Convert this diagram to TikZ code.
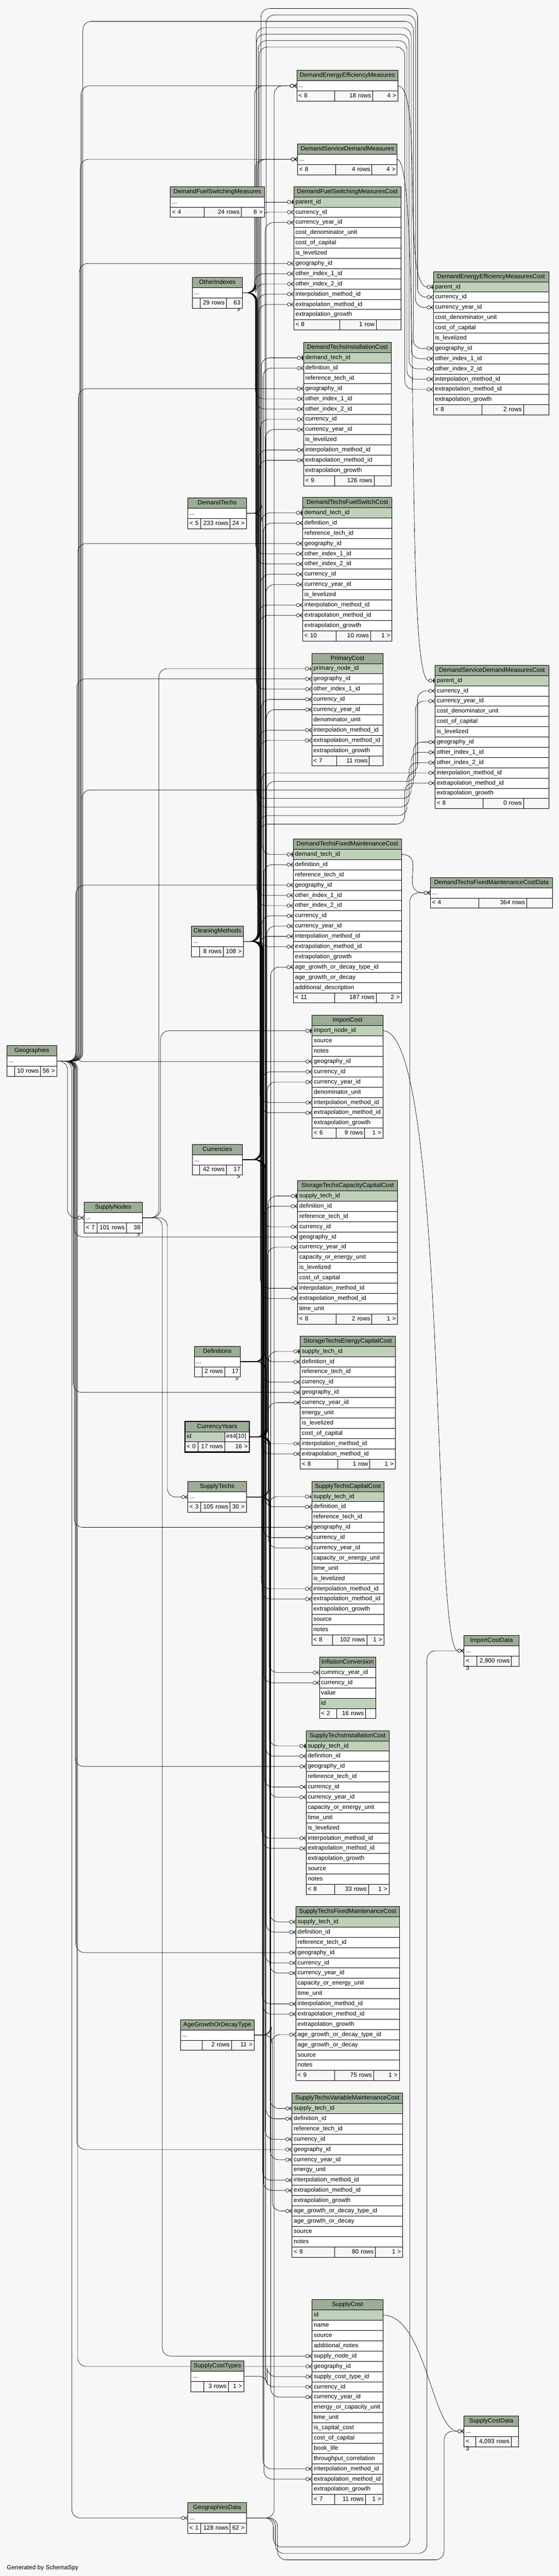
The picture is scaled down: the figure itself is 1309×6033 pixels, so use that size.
\documentclass[tikz,border=0pt]{standalone}
\usepackage{fontspec}
\setmainfont{Liberation Sans}
\usetikzlibrary{calc}
\pgfdeclarelayer{bg}
\pgfsetlayers{bg,main}
\definecolor{bgc}{HTML}{F7F7F7}
\definecolor{hdrc}{HTML}{9CAC97}
\definecolor{pkc}{HTML}{BFD1B9}
\definecolor{footc}{HTML}{F7F7F7}
\newcommand\tabfont{\fontsize{14.3}{17}\selectfont}
\tikzset{
  tcell/.style={draw=black, line width=1pt, anchor=north west, minimum height=24pt,
    inner xsep=4pt, inner ysep=0pt, outer sep=0pt, text height=10.5pt, text depth=3pt, font=\tabfont},
  hdr/.style={fill=hdrc},
  fkline/.style={draw=black, line width=0.8pt}
}
% table with columns
\newcommand\tbl[7]{%
  \pgfmathsetmacro\tw{#3-#2-8}%
  \node[tcell,hdr,text width=\tw pt,align=center] (#1-h) at (#2,#4) {#5};
  \foreach \cn [count=\k] in {#7} {%
    \pgfmathsetmacro\ry{#4+24*\k}%
    \ifnum\k=#6\relax\def\rf{pkc}\else\def\rf{white}\fi
    \node[tcell,fill=\rf,text width=\tw pt,align=left] (#1-\k) at (#2,\ry) {\cn};
    \xdef\nrows{\k}%
  }%
  \xdef\tblx{#2}\xdef\tblxr{#3}\xdef\tbly{#4}%
}
% collapsed table
\newcommand\ctbl[5]{%
  \pgfmathsetmacro\tw{#3-#2-8}%
  \pgfmathsetmacro\ry{#4+24}%
  \node[tcell,hdr,text width=\tw pt,align=center] (#1-h) at (#2,#4) {#5};
  \node[tcell,fill=white,text width=\tw pt,align=left] (#1-1) at (#2,\ry) {...};
  \xdef\nrows{1}\xdef\tblx{#2}\xdef\tblxr{#3}\xdef\tbly{#4}%
}
% footer: id, split1, split2, text1, text2, text3
\newcommand\tfoot[6]{%
  \pgfmathsetmacro\fy{\tbly+24*(\nrows+1)}%
  \pgfmathsetmacro\wa{#2-\tblx-8}\pgfmathsetmacro\wb{#3-#2-8}\pgfmathsetmacro\wc{\tblxr-#3-8}%
  \node[tcell,fill=footc,text width=\wa pt,align=left] (#1-fa) at (\tblx,\fy) {#4};
  \node[tcell,fill=footc,text width=\wb pt,align=right] (#1-fb) at (#2,\fy) {#5};
  \node[tcell,fill=footc,text width=\wc pt,align=right] (#1-fc) at (#3,\fy) {#6};
}
% markers
\newcommand\crow[1]{%
  \draw[fkline] ($(#1.west)+(-7,0)$) -- ($(#1.west)+(0,-5)$)
                ($(#1.west)+(-7,0)$) -- (#1.west)
                ($(#1.west)+(-7,0)$) -- ($(#1.west)+(0,5)$);
  \draw[fkline,fill=bgc] ($(#1.west)+(-11,0)$) circle[radius=4pt];}
\newcommand\zo[1]{%
  \draw[fkline] ($(#1.west)+(-7,0)$) -- (#1.west);
  \draw[line width=2.2pt] ($(#1.west)+(-3,-5)$) -- ($(#1.west)+(-3,5)$);
  \draw[fkline,fill=bgc] ($(#1.west)+(-11,0)$) circle[radius=4pt];}
% connectors: parent, child, bundle x
\newcommand\fkm[3]{\draw[fkline,rounded corners=20pt] (#1.east) -- (#1.east -| #3,0) -- (#2.west -| #3,0) -- ($(#2.west)+(-15,0)$); \crow{#2}}
\newcommand\fko[3]{\draw[fkline,rounded corners=20pt] (#1.east) -- (#1.east -| #3,0) -- (#2.west -| #3,0) -- ($(#2.west)+(-15,0)$); \zo{#2}}
% curved direct connectors: parent, child, c1, c2
\newcommand\fkc[4]{\draw[fkline] (#1.east) .. controls +(#3,0) and +(-#4,0) .. ($(#2.west)+(-15,0)$); \crow{#2}}
\newcommand\fkoc[4]{\draw[fkline] (#1.east) .. controls +(#3,0) and +(-#4,0) .. ($(#2.west)+(-15,0)$); \zo{#2}}
% routed around: parent, child, x1, y, x2
\newcommand\rr[5]{\draw[fkline,rounded corners=20pt] (#1.east) -- (#1.east -| #3,0) -- (#3,#4) -- (#5,#4) -- (#2.west -| #5,0) -- ($(#2.west)+(-15,0)$); \crow{#2}}
\begin{document}
\catcode`\_=12
\begin{tikzpicture}[x=1pt,y=-1pt]
\useasboundingbox (0,0) rectangle (1309,6033);
% ---------------- middle column
\ctbl{deem}{695}{932}{165}{DemandEnergyEfficiencyMeasures}
\tfoot{deem}{783}{873}{< 8}{18 rows}{4 >}
\ctbl{dsdm}{697}{930}{337}{DemandServiceDemandMeasures}
\tfoot{dsdm}{786}{871}{< 8}{4 rows}{4 >}
\tbl{dfsmc}{688}{939}{437}{DemandFuelSwitchingMeasuresCost}{1}{parent_id,currency_id,currency_year_id,cost_denominator_unit,cost_of_capital,is_levelized,geography_id,other_index_1_id,other_index_2_id,interpolation_method_id,extrapolation_method_id,extrapolation_growth}
\tfoot{dfsmc}{796}{881}{< 8}{1 row}{}
\tbl{dtic}{711}{916}{802}{DemandTechsInstallationCost}{1}{demand_tech_id,definition_id,reference_tech_id,geography_id,other_index_1_id,other_index_2_id,currency_id,currency_year_id,is_levelized,interpolation_method_id,extrapolation_method_id,extrapolation_growth}
\tfoot{dtic}{784}{876}{< 9}{126 rows}{}
\tbl{dtfsc}{709}{918}{1165}{DemandTechsFuelSwitchCost}{1}{demand_tech_id,definition_id,reference_tech_id,geography_id,other_index_1_id,other_index_2_id,currency_id,currency_year_id,is_levelized,interpolation_method_id,extrapolation_method_id,extrapolation_growth}
\tfoot{dtfsc}{787}{868}{< 10}{10 rows}{1 >}
\tbl{pc}{730}{897}{1530}{PrimaryCost}{1}{primary_node_id,geography_id,other_index_1_id,currency_id,currency_year_id,denominator_unit,interpolation_method_id,extrapolation_method_id,extrapolation_growth}
\tfoot{pc}{789}{865}{< 7}{11 rows}{}
\tbl{dtfmc}{687}{940}{1965}{DemandTechsFixedMaintenanceCost}{1}{demand_tech_id,definition_id,reference_tech_id,geography_id,other_index_1_id,other_index_2_id,currency_id,currency_year_id,interpolation_method_id,extrapolation_method_id,extrapolation_growth,age_growth_or_decay_type_id,age_growth_or_decay,additional_description}
\tfoot{dtfmc}{783}{881}{< 11}{187 rows}{2 >}
\tbl{ic}{731}{897}{2378}{ImportCost}{1}{import_node_id,source,notes,geography_id,currency_id,currency_year_id,denominator_unit,interpolation_method_id,extrapolation_method_id,extrapolation_growth}
\tfoot{ic}{787}{854}{< 6}{9 rows}{1 >}
\tbl{stccc}{697}{931}{2765}{StorageTechsCapacityCapitalCost}{1}{supply_tech_id,definition_id,reference_tech_id,currency_id,geography_id,currency_year_id,capacity_or_energy_unit,is_levelized,cost_of_capital,interpolation_method_id,extrapolation_method_id,time_unit}
\tfoot{stccc}{787}{871}{< 8}{2 rows}{1 >}
\tbl{stecc}{703}{926}{3129}{StorageTechsEnergyCapitalCost}{1}{supply_tech_id,definition_id,reference_tech_id,currency_id,geography_id,currency_year_id,energy_unit,is_levelized,cost_of_capital,interpolation_method_id,extrapolation_method_id}
\tfoot{stecc}{791}{866}{< 8}{1 row}{1 >}
\tbl{stcc}{730}{899}{3469}{SupplyTechsCapitalCost}{1}{supply_tech_id,definition_id,reference_tech_id,geography_id,currency_id,currency_year_id,capacity_or_energy_unit,time_unit,is_levelized,interpolation_method_id,extrapolation_method_id,extrapolation_growth,source,notes}
\tfoot{stcc}{779}{859}{< 8}{102 rows}{1 >}
\tbl{infl}{748}{880}{3881}{InflationConversion}{4}{currency_year_id,currency_id,value,id}
\tfoot{infl}{789}{856}{< 2}{16 rows}{}
\tbl{stic}{717}{911}{4053}{SupplyTechsInstallationCost}{1}{supply_tech_id,definition_id,geography_id,reference_tech_id,currency_id,currency_year_id,capacity_or_energy_unit,time_unit,is_levelized,interpolation_method_id,extrapolation_method_id,extrapolation_growth,source,notes}
\tfoot{stic}{783}{863}{< 8}{33 rows}{1 >}
\tbl{stfmc}{693}{935}{4465}{SupplyTechsFixedMaintenanceCost}{1}{supply_tech_id,definition_id,reference_tech_id,geography_id,currency_id,currency_year_id,capacity_or_energy_unit,time_unit,interpolation_method_id,extrapolation_method_id,extrapolation_growth,age_growth_or_decay_type_id,age_growth_or_decay,source,notes}
\tfoot{stfmc}{783}{875}{< 9}{75 rows}{1 >}
\tbl{stvmc}{684}{943}{4902}{SupplyTechsVariableMaintenanceCost}{1}{supply_tech_id,definition_id,reference_tech_id,currency_id,geography_id,currency_year_id,energy_unit,interpolation_method_id,extrapolation_method_id,extrapolation_growth,age_growth_or_decay_type_id,age_growth_or_decay,source,notes}
\tfoot{stvmc}{783}{879}{< 9}{80 rows}{1 >}
\tbl{sc}{731}{897}{5386}{SupplyCost}{1}{id,name,source,additional_notes,supply_node_id,geography_id,supply_cost_type_id,currency_id,currency_year_id,energy_or_capacity_unit,time_unit,is_capital_cost,cost_of_capital,book_life,throughput_correlation,interpolation_method_id,extrapolation_method_id,extrapolation_growth}
\tfoot{sc}{783}{856}{< 7}{11 rows}{1 >}
% ---------------- right column
\tbl{deemc}{1015}{1285}{636}{DemandEnergyEfficiencyMeasuresCost}{1}{parent_id,currency_id,currency_year_id,cost_denominator_unit,cost_of_capital,is_levelized,geography_id,other_index_1_id,other_index_2_id,interpolation_method_id,extrapolation_method_id,extrapolation_growth}
\tfoot{deemc}{1129}{1226}{< 8}{2 rows}{}
\tbl{dsdmc}{1019}{1285}{1558}{DemandServiceDemandMeasuresCost}{1}{parent_id,currency_id,currency_year_id,cost_denominator_unit,cost_of_capital,is_levelized,geography_id,other_index_1_id,other_index_2_id,interpolation_method_id,extrapolation_method_id,extrapolation_growth}
\tfoot{dsdmc}{1131}{1226}{< 8}{0 rows}{}
\ctbl{dtfmcd}{1008}{1294}{2055}{DemandTechsFixedMaintenanceCostData}
\tfoot{dtfmcd}{1121}{1234}{< 4}{364 rows}{}
\ctbl{icd}{1087}{1215}{3830}{ImportCostData}
\tfoot{icd}{1116}{1198}{< 3}{2,900 rows}{}
\ctbl{scd}{1087}{1214}{5658}{SupplyCostData}
\tfoot{scd}{1114}{1197}{< 3}{4,093 rows}{}
% ---------------- left column
\ctbl{dfsm}{399}{619}{437}{DemandFuelSwitchingMeasures}
\tfoot{dfsm}{478}{565}{< 4}{24 rows}{8 >}
\ctbl{oi}{451}{567}{650}{OtherIndexes}
\tfoot{oi}{469}{530}{}{29 rows}{63 >}
\ctbl{dt}{440}{577}{1166}{DemandTechs}
\tfoot{dt}{470}{539}{< 5}{233 rows}{24 >}
\ctbl{cm}{448}{570}{2169}{CleaningMethods}
\tfoot{cm}{468}{523}{}{8 rows}{108 >}
\ctbl{geo}{16}{133}{2449}{Geographies}
\tfoot{geo}{34}{95}{}{10 rows}{56 >}
\ctbl{cur}{451}{567}{2680}{Currencies}
\tfoot{cur}{468}{530}{}{42 rows}{17 >}
\ctbl{sn}{197}{333}{2816}{SupplyNodes}
\tfoot{sn}{227}{296}{< 7}{101 rows}{38 >}
\ctbl{def}{455}{563}{3153}{Definitions}
\tfoot{def}{473}{526}{}{2 rows}{17 >}
% CurrencyYears (focus table)
\node[tcell,hdr,text width=143pt,align=center] (cy-h) at (433,3329) {CurrencyYears};
\node[tcell,fill=pkc,text width=85pt,align=left] (cy-1a) at (433,3353) {id};
\node[tcell,fill=white,text width=50pt,align=left] (cy-1) at (526,3353) {int4[10]};
\xdef\nrows{1}\xdef\tblx{433}\xdef\tblxr{584}\xdef\tbly{3329}
\tfoot{cy}{464}{526}{< 0}{17 rows}{16 >}
\draw[line width=3pt] (cy-h.north west) rectangle (cy-fc.south east);
\ctbl{st}{440}{577}{3470}{SupplyTechs}
\tfoot{st}{470}{539}{< 3}{105 rows}{30 >}
\ctbl{ag}{423}{595}{4730}{AgeGrowthOrDecayType}
\tfoot{ag}{473}{542}{}{2 rows}{11 >}
\ctbl{sct}{447}{571}{5529}{SupplyCostTypes}
\tfoot{sct}{477}{535}{}{3 rows}{1 >}
\ctbl{gd}{440}{577}{5861}{GeographiesData}
\tfoot{gd}{470}{539}{< 1}{128 rows}{62 >}
\node[anchor=base west,font=\tabfont,inner sep=0pt] (gen) at (16,6018) {Generated by SchemaSpy};
% ---------------- connectors
\begin{pgfonlayer}{bg}
\fill[bgc] (0,0) rectangle (1309,6033);
% DemandEnergyEfficiencyMeasures / DemandServiceDemandMeasures
\fkm{geo-1}{deem-1}{190}
\fkm{oi-1}{deem-1}{596}
\fkm{gd-1}{deem-1}{642}
\fkm{geo-1}{dsdm-1}{188}
\fkm{oi-1}{dsdm-1}{598}
\fkm{cm-1}{dsdm-1}{603}
% DemandFuelSwitchingMeasuresCost
\draw[fkline] (dfsm-1.east) -- ($(dfsmc-1.west)+(-15,0)$); \zo{dfsmc-1}
\fkm{cur-1}{dfsmc-2}{609}
\fkm{cy-1}{dfsmc-3}{621}
\fkm{geo-1}{dfsmc-7}{186}
\fkm{oi-1}{dfsmc-8}{597}
\fkm{oi-1}{dfsmc-9}{599}
\fkm{cm-1}{dfsmc-10}{604}
\fkm{cm-1}{dfsmc-11}{606}
% DemandEnergyEfficiencyMeasuresCost
\fkoc{deem-1}{deemc-1}{60}{60}
\rr{cur-1}{deemc-2}{611}{20}{978}
\rr{cy-1}{deemc-3}{623}{35}{973}
\rr{geo-1}{deemc-7}{194}{50}{968}
\rr{oi-1}{deemc-8}{600}{65}{963}
\rr{oi-1}{deemc-9}{601}{80}{958}
\rr{cm-1}{deemc-10}{605}{95}{953}
\rr{cm-1}{deemc-11}{607}{110}{948}
% DemandTechsInstallationCost
\fko{dt-1}{dtic-1}{612}
\fkm{def-1}{dtic-2}{616}
\fkm{geo-1}{dtic-4}{184}
\fkm{oi-1}{dtic-5}{598}
\fkm{oi-1}{dtic-6}{600}
\fkm{cur-1}{dtic-7}{610}
\fkm{cy-1}{dtic-8}{622}
\fkm{cm-1}{dtic-10}{605}
\fkm{cm-1}{dtic-11}{607}
% DemandTechsFuelSwitchCost
\fko{dt-1}{dtfsc-1}{613}
\fkm{def-1}{dtfsc-2}{617}
\fkm{geo-1}{dtfsc-4}{182}
\fkm{oi-1}{dtfsc-5}{599}
\fkm{oi-1}{dtfsc-6}{601}
\fkm{cur-1}{dtfsc-7}{611}
\fkm{cy-1}{dtfsc-8}{623}
\fkm{cm-1}{dtfsc-10}{606}
\fkm{cm-1}{dtfsc-11}{608}
% PrimaryCost
\fko{sn-1}{pc-1}{372}
\fkm{geo-1}{pc-2}{180}
\fkm{oi-1}{pc-3}{600}
\fkm{cur-1}{pc-4}{612}
\fkm{cy-1}{pc-5}{624}
\fkm{cm-1}{pc-7}{607}
\fkm{cm-1}{pc-8}{609}
% DemandServiceDemandMeasuresCost
\fkoc{dsdm-1}{dsdmc-1}{60}{60}
\rr{cur-1}{dsdmc-2}{612}{1810}{978}
\rr{cy-1}{dsdmc-3}{624}{1830}{973}
\rr{geo-1}{dsdmc-7}{192}{1850}{968}
\rr{oi-1}{dsdmc-8}{601}{1870}{963}
\rr{oi-1}{dsdmc-9}{602}{1890}{958}
\rr{cm-1}{dsdmc-10}{607}{1910}{953}
\rr{cm-1}{dsdmc-11}{608}{1930}{948}
% DemandTechsFixedMaintenanceCost
\fko{dt-1}{dtfmc-1}{614}
\fkm{def-1}{dtfmc-2}{618}
\fkm{geo-1}{dtfmc-4}{178}
\fkm{oi-1}{dtfmc-5}{601}
\fkm{oi-1}{dtfmc-6}{603}
\fkm{cur-1}{dtfmc-7}{613}
\fkm{cy-1}{dtfmc-8}{625}
\fkm{cm-1}{dtfmc-9}{608}
\fkm{cm-1}{dtfmc-10}{610}
\fkm{ag-1}{dtfmc-12}{634}
\fkc{dtfmc-1}{dtfmcd-1}{60}{60}
% ImportCost
\fko{sn-1}{ic-1}{376}
\fkm{geo-1}{ic-4}{176}
\fkm{cur-1}{ic-5}{614}
\fkm{cy-1}{ic-6}{626}
\fkm{cm-1}{ic-8}{609}
\fkm{cm-1}{ic-9}{611}
\fkc{ic-1}{icd-1}{150}{60}
% StorageTechsCapacityCapitalCost
\fko{st-1}{stccc-1}{628}
\fkm{def-1}{stccc-2}{619}
\fkm{cur-1}{stccc-4}{615}
\fkm{geo-1}{stccc-5}{174}
\fkm{cy-1}{stccc-6}{627}
\fkm{cm-1}{stccc-10}{610}
\fkm{cm-1}{stccc-11}{612}
% StorageTechsEnergyCapitalCost
\fko{st-1}{stecc-1}{629}
\fkm{def-1}{stecc-2}{620}
\fkm{cur-1}{stecc-4}{616}
\fkm{geo-1}{stecc-5}{172}
\fkm{cy-1}{stecc-6}{628}
\fkm{cm-1}{stecc-10}{611}
\fkm{cm-1}{stecc-11}{613}
% SupplyTechsCapitalCost
\fko{st-1}{stcc-1}{630}
\fkm{def-1}{stcc-2}{621}
\fkm{geo-1}{stcc-4}{174}
\fkm{cur-1}{stcc-5}{617}
\fkm{cy-1}{stcc-6}{629}
\fkm{cm-1}{stcc-10}{612}
\fkm{cm-1}{stcc-11}{614}
% InflationConversion
\fkm{cy-1}{infl-1}{630}
\fkm{cur-1}{infl-2}{618}
% SupplyTechsInstallationCost
\fko{st-1}{stic-1}{631}
\fkm{def-1}{stic-2}{622}
\fkm{geo-1}{stic-3}{176}
\fkm{cur-1}{stic-5}{619}
\fkm{cy-1}{stic-6}{631}
\fkm{cm-1}{stic-10}{613}
\fkm{cm-1}{stic-11}{615}
% SupplyTechsFixedMaintenanceCost
\fkm{st-1}{stfmc-1}{632}
\fkm{def-1}{stfmc-2}{623}
\fkm{geo-1}{stfmc-4}{178}
\fkm{cur-1}{stfmc-5}{620}
\fkm{cy-1}{stfmc-6}{632}
\fkm{cm-1}{stfmc-9}{614}
\fkm{cm-1}{stfmc-10}{616}
\fkm{ag-1}{stfmc-12}{636}
% SupplyTechsVariableMaintenanceCost
\fkm{st-1}{stvmc-1}{633}
\fkm{def-1}{stvmc-2}{624}
\fkm{cur-1}{stvmc-4}{621}
\fkm{geo-1}{stvmc-5}{180}
\fkm{cy-1}{stvmc-6}{633}
\fkm{cm-1}{stvmc-8}{615}
\fkm{cm-1}{stvmc-9}{617}
\fkm{ag-1}{stvmc-11}{638}
% SupplyCost
\fkm{sn-1}{sc-5}{380}
\fkm{geo-1}{sc-6}{182}
\fkm{sct-1}{sc-7}{626}
\fkm{cur-1}{sc-8}{622}
\fkm{cy-1}{sc-9}{634}
\fkm{cm-1}{sc-16}{616}
\fkm{cm-1}{sc-17}{618}
\fkc{sc-1}{scd-1}{100}{60}
% other links
\fkm{geo-1}{sn-1}{158}
\fkm{sn-1}{st-1}{392}
\fkm{geo-1}{gd-1}{168}
\rr{gd-1}{dtfmcd-1}{640}{5965}{960}
\rr{gd-1}{icd-1}{645}{5980}{1000}
\rr{gd-1}{scd-1}{650}{5995}{1040}
\end{pgfonlayer}
\end{tikzpicture}
\end{document}
